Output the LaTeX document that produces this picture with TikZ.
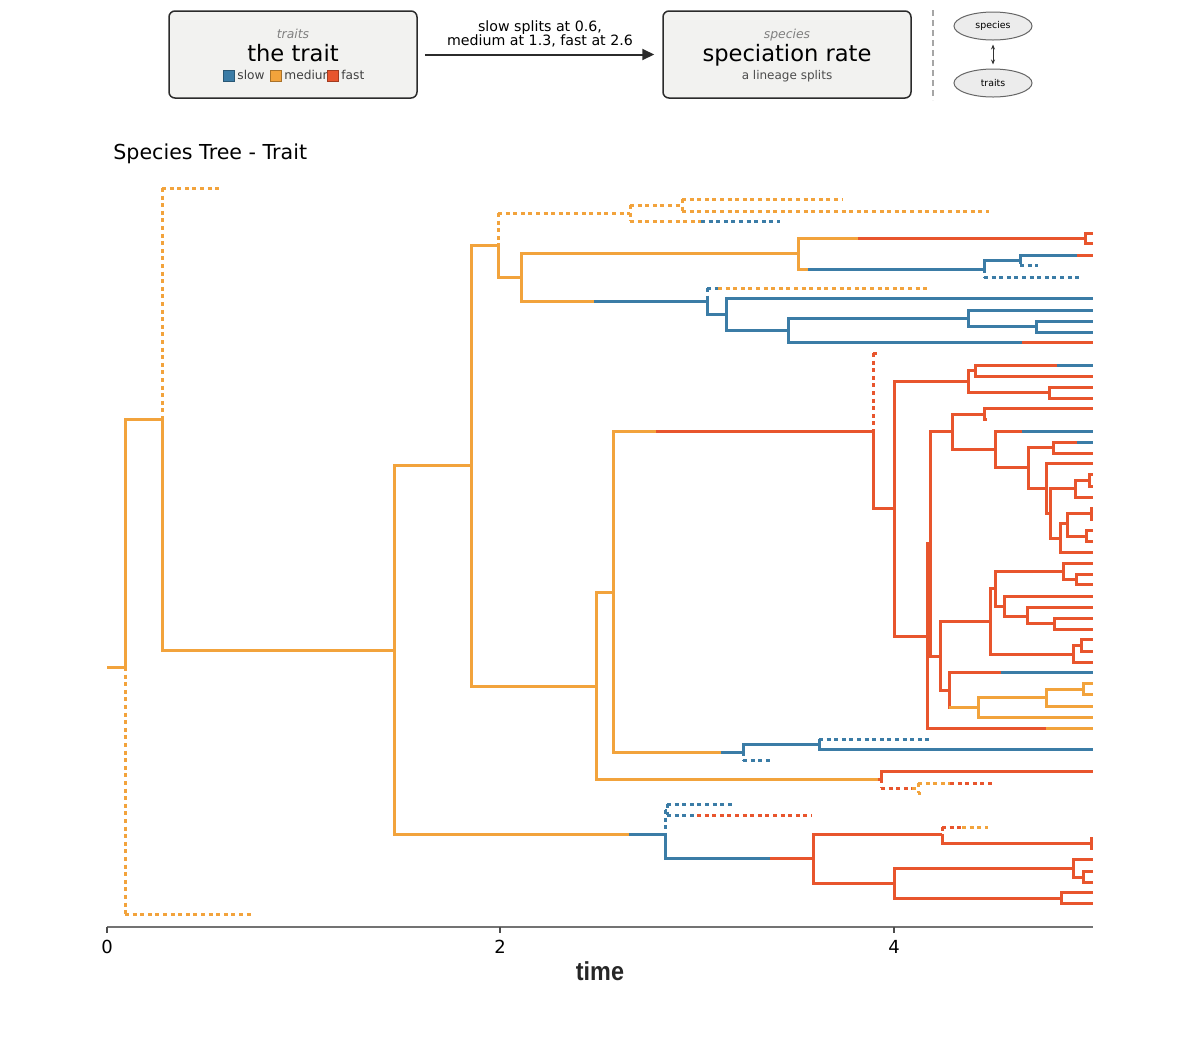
\documentclass[tikz,border=0pt]{standalone}
\usepackage{fontspec}
\setmainfont{DejaVu Sans}
\newfontfamily\labfont{Liberation Sans}
\usetikzlibrary{arrows.meta,shapes.geometric}
\definecolor{slowc}{HTML}{3B7CA6}
\definecolor{medc}{HTML}{F2A33C}
\definecolor{fastc}{HTML}{E8552D}
\definecolor{boxfill}{HTML}{F2F2F0}
\definecolor{boxedge}{HTML}{2B2B2B}
\newcommand\Hbr[4]{\draw[#1] (#2,#4) -- (#3,#4);}
\newcommand\Vbr[4]{\draw[line cap=rect,#1] (#2,#3) -- (#2,#4);}
\tikzset{
  slw/.style={slowc, line width=1.5pt},
  med/.style={medc, line width=1.5pt},
  fst/.style={fastc, line width=1.5pt},
  dslw/.style={slw, line cap=butt, dash pattern=on 2pt off 1.8pt},
  dmed/.style={med, line cap=butt, dash pattern=on 2pt off 1.8pt},
  dfst/.style={fst, line cap=butt, dash pattern=on 2pt off 1.8pt},
  hbox/.style={draw=boxedge, fill=boxfill, line width=0.75pt, rounded corners=3pt, minimum width=124pt, minimum height=43.5pt, inner sep=0pt},
  oval/.style={ellipse, draw=gray!80!black, fill=gray!15, line width=0.5pt, minimum width=39pt, minimum height=14pt, inner sep=0pt, font=\fontsize{4.7pt}{5pt}\selectfont},
  txt/.style={inner sep=0pt, anchor=base},
  legsq/.style={line width=0.4pt, minimum size=5.5pt, inner sep=0pt}
}
\begin{document}
\begin{tikzpicture}[x=0.5pt,y=-0.5pt]
\useasboundingbox (0,0) rectangle (1200,1046);
% ---------- header ----------
\node[hbox] (trait) at (293,54.5) {};
\node[hbox] (rate) at (787,54.5) {};
\node[txt, text=gray, font=\fontsize{6.2pt}{7pt}\selectfont\itshape] (t1) at (293,38) {traits};
\node[txt, font=\fontsize{11.3pt}{13pt}\selectfont] (t2) at (293,61) {the trait};
\node[legsq, fill=slowc, draw=slowc!70!black] (q1) at (228.5,75.5) {};
\node[txt, anchor=base west, text=black!75, font=\fontsize{6.1pt}{7pt}\selectfont] (l1) at (237,79) {slow};
\node[legsq, fill=medc, draw=medc!70!black] (q2) at (275.5,75.5) {};
\node[txt, anchor=base west, text=black!75, font=\fontsize{6.1pt}{7pt}\selectfont] (l2) at (284,79) {medium};
\node[legsq, fill=fastc, draw=fastc!70!black] (q3) at (332.5,75.5) {};
\node[txt, anchor=base west, text=black!75, font=\fontsize{6.1pt}{7pt}\selectfont] (l3) at (341,79) {fast};
\node[txt, text=gray, font=\fontsize{6.2pt}{7pt}\selectfont\itshape] (s1) at (787,38) {species};
\node[txt, font=\fontsize{11.3pt}{13pt}\selectfont] (s2) at (787,61) {speciation rate};
\node[txt, text=black!70, font=\fontsize{6pt}{7pt}\selectfont] (s3) at (787,79) {a lineage splits};
\draw[boxedge, line width=1pt, -{Triangle[length=6pt,width=5.5pt]}, shorten <=3.5pt, shorten >=4pt] (trait.east) -- (rate.west);
\node[inner sep=0pt, align=center, font=\fontsize{7.1pt}{7.4pt}\selectfont] (al) at (540,34) {slow splits at 0.6,\\medium at 1.3, fast at 2.6};
\draw[gray!70, line width=0.6pt, dash pattern=on 3pt off 2pt] (933,10) -- (933,100);
\node[oval] (sp) at (993,26) {species};
\node[oval] (tr) at (993,83) {traits};
\draw[black!80, line width=0.4pt, {Stealth[length=2.5pt,width=2pt]}-{Stealth[length=2.5pt,width=2pt]}, shorten <=2pt, shorten >=2pt] (sp.south) -- (tr.north);
% ---------- title ----------
\node[txt, anchor=base west, font=\fontsize{10.3pt}{12pt}\selectfont] (title) at (113,159) {Species Tree - Trait};
% ---------- axis ----------
\draw[black!55, line width=0.7pt] (107,927) -- (1093,927);
\foreach \xx/\lab in {107/0,500/2,894/4}{
  \draw[black!70, line width=0.6pt] (\xx,927) -- (\xx,933);
  \node[txt, font=\fontsize{9pt}{10pt}\selectfont] at (\xx,953) {\lab};
}
\node[txt, xscale=0.9, font=\labfont\bfseries\fontsize{13pt}{15pt}\selectfont, text=black!85] (xl) at (600,980) {time};
% ---------- tree ----------
\Hbr{med}{107}{125}{667}
\Vbr{med}{125}{419}{667}\Vbr{dmed}{125}{667}{914}
\Hbr{dmed}{125}{254}{914}
\Hbr{med}{125}{162}{419}
\Vbr{dmed}{162}{188}{419}\Vbr{med}{162}{419}{650}
\Hbr{dmed}{162}{221}{188}
\Hbr{med}{162}{394}{650}
\Vbr{med}{394}{465}{834}
\Hbr{med}{394}{471}{465}
\Vbr{med}{471}{245}{686}
\Hbr{med}{471}{498}{245}
\Vbr{dmed}{498}{213}{245}\Vbr{med}{498}{245}{277}
\Hbr{dmed}{498}{630}{213}
\Vbr{dmed}{630}{205}{221}
\Hbr{dmed}{630}{682}{205}
\Vbr{dmed}{682}{199}{211}
\Hbr{dmed}{682}{842}{199}
\Hbr{dmed}{682}{989}{211}
\Hbr{dmed}{630}{701}{221}\Hbr{dslw}{701}{780}{221}
\Hbr{med}{498}{521}{277}
\Vbr{med}{521}{253}{301}
\Hbr{med}{521}{798}{253}
\Vbr{med}{798}{238}{269}
\Hbr{med}{798}{858}{238}\Hbr{fst}{858}{1085}{238}
\Vbr{fst}{1085}{233}{243}\Hbr{fst}{1085}{1093}{233}\Hbr{fst}{1085}{1093}{243}
\Hbr{med}{798}{808}{269}\Hbr{slw}{808}{984}{269}
\Vbr{slw}{984}{260}{269}\Vbr{dslw}{984}{269}{277}
\Hbr{slw}{984}{1020}{260}
\Vbr{slw}{1020}{255}{260}\Vbr{dslw}{1020}{260}{265}
\Hbr{slw}{1020}{1077}{255}\Hbr{fst}{1077}{1093}{255}
\Hbr{dslw}{1020}{1038}{265}
\Hbr{dslw}{984}{1080}{277}
\Hbr{med}{521}{594}{301}\Hbr{slw}{594}{707}{301}
\Vbr{dslw}{707}{288}{301}\Vbr{slw}{707}{301}{314}
\Hbr{dslw}{707}{718}{288}\Hbr{dmed}{718}{929}{288}
\Hbr{slw}{707}{726}{314}
\Vbr{slw}{726}{298}{330}
\Hbr{slw}{726}{1093}{298}
\Hbr{slw}{726}{788}{330}
\Vbr{slw}{788}{318}{342}
\Hbr{slw}{788}{968}{318}
\Vbr{slw}{968}{310}{326}
\Hbr{slw}{968}{1093}{310}
\Hbr{slw}{968}{1036}{326}
\Vbr{slw}{1036}{321}{332}
\Hbr{slw}{1036}{1093}{321}\Hbr{slw}{1036}{1093}{332}
\Hbr{slw}{788}{1022}{342}\Hbr{fst}{1022}{1093}{342}
% middle clade
\Hbr{med}{471}{596}{686}
\Vbr{med}{596}{592}{779}
\Hbr{med}{596}{613}{592}
\Vbr{med}{613}{431}{752}
\Hbr{med}{613}{656}{431}\Hbr{fst}{656}{873}{431}
\Vbr{dfst}{873}{353}{431}\Vbr{fst}{873}{431}{508}
\Hbr{dfst}{873}{878}{353}
\Hbr{fst}{873}{894}{508}
\Vbr{fst}{894}{381}{636}
\Hbr{fst}{894}{968}{381}
\Vbr{fst}{968}{370}{392}
\Hbr{fst}{968}{975}{370}
\Vbr{fst}{975}{365}{376}
\Hbr{fst}{975}{1057}{365}\Hbr{slw}{1057}{1093}{365}
\Hbr{fst}{975}{1093}{376}
\Hbr{fst}{968}{1049}{392}
\Vbr{fst}{1049}{387}{398}
\Hbr{fst}{1049}{1093}{387}\Hbr{fst}{1049}{1093}{398}
\Hbr{fst}{894}{927}{636}
\Vbr{fst}{927}{543}{728}
\Hbr{fst}{927}{930}{543}
\Vbr{fst}{930}{431}{656}
\Hbr{fst}{930}{952}{431}
\Vbr{fst}{952}{414}{449}
\Hbr{fst}{952}{984}{414}
\Vbr{fst}{984}{408}{419}
\Hbr{fst}{984}{1093}{408}
\Hbr{fst}{984}{987}{419}
\Hbr{fst}{952}{995}{449}
\Vbr{fst}{995}{431}{467}
\Hbr{fst}{995}{1022}{431}\Hbr{slw}{1022}{1093}{431}
\Hbr{fst}{995}{1028}{467}
\Vbr{fst}{1028}{447}{488}
\Hbr{fst}{1028}{1053}{447}
\Vbr{fst}{1053}{442}{453}
\Hbr{fst}{1053}{1077}{442}\Hbr{slw}{1077}{1093}{442}
\Hbr{fst}{1053}{1093}{453}
\Hbr{fst}{1028}{1046}{488}
\Vbr{fst}{1046}{463}{513}
\Hbr{fst}{1046}{1093}{463}
\Hbr{fst}{1046}{1050}{513}
\Vbr{fst}{1050}{488}{538}
\Hbr{fst}{1050}{1075}{488}
\Vbr{fst}{1075}{480}{497}
\Hbr{fst}{1075}{1089}{480}
\Vbr{fst}{1089}{474}{486}
\Hbr{fst}{1089}{1093}{474}\Hbr{fst}{1089}{1093}{486}
\Hbr{fst}{1075}{1093}{497}
\Hbr{fst}{1050}{1060}{538}
\Vbr{fst}{1060}{523}{552}
\Hbr{fst}{1060}{1067}{523}
\Vbr{fst}{1067}{513}{536}
\Hbr{fst}{1067}{1091}{513}
\Vbr{fst}{1091}{508}{519}
\Hbr{fst}{1091}{1093}{508}\Hbr{fst}{1091}{1093}{519}
\Hbr{fst}{1067}{1086}{536}
\Vbr{fst}{1086}{530}{541}
\Hbr{fst}{1086}{1093}{530}\Hbr{fst}{1086}{1093}{541}
\Hbr{fst}{1060}{1093}{552}
\Hbr{fst}{930}{940}{656}
\Vbr{fst}{940}{621}{690}
\Hbr{fst}{940}{990}{621}
\Vbr{fst}{990}{588}{654}
\Hbr{fst}{990}{995}{588}
\Vbr{fst}{995}{571}{606}
\Hbr{fst}{995}{1063}{571}
\Vbr{fst}{1063}{563}{579}
\Hbr{fst}{1063}{1093}{563}
\Hbr{fst}{1063}{1076}{579}
\Vbr{fst}{1076}{574}{584}
\Hbr{fst}{1076}{1093}{574}\Hbr{fst}{1076}{1093}{584}
\Hbr{fst}{995}{1004}{606}
\Vbr{fst}{1004}{596}{616}
\Hbr{fst}{1004}{1093}{596}
\Hbr{fst}{1004}{1027}{616}
\Vbr{fst}{1027}{607}{623}
\Hbr{fst}{1027}{1093}{607}
\Hbr{fst}{1027}{1054}{623}
\Vbr{fst}{1054}{618}{629}
\Hbr{fst}{1054}{1093}{618}\Hbr{fst}{1054}{1093}{629}
\Hbr{fst}{990}{1073}{654}
\Vbr{fst}{1073}{645}{662}
\Hbr{fst}{1073}{1081}{645}
\Vbr{fst}{1081}{639}{651}
\Hbr{fst}{1081}{1093}{639}\Hbr{fst}{1081}{1093}{651}
\Hbr{fst}{1073}{1093}{662}
\Hbr{fst}{940}{949}{690}
\Vbr{fst}{949}{672}{707}
\Hbr{fst}{949}{1001}{672}\Hbr{slw}{1001}{1093}{672}
\Hbr{med}{949}{978}{707}
\Vbr{med}{978}{697}{717}
\Hbr{med}{978}{1046}{697}
\Vbr{med}{1046}{689}{706}
\Hbr{med}{1046}{1083}{689}
\Vbr{med}{1083}{683}{694}
\Hbr{med}{1083}{1093}{683}\Hbr{med}{1083}{1093}{694}
\Hbr{med}{1046}{1093}{706}
\Hbr{med}{978}{1093}{717}
\Hbr{fst}{927}{1046}{728}\Hbr{med}{1046}{1093}{728}
% lower of 613
\Hbr{med}{613}{721}{752}\Hbr{slw}{721}{743}{752}
\Vbr{slw}{743}{744}{752}\Vbr{dslw}{743}{752}{760}
\Hbr{slw}{743}{819}{744}
\Vbr{dslw}{819}{739}{744}\Vbr{slw}{819}{744}{749}
\Hbr{dslw}{819}{930}{739}
\Hbr{slw}{819}{1093}{749}
\Hbr{dslw}{743}{771}{760}
% lower of 596
\Hbr{med}{596}{878}{779}\Hbr{fst}{878}{881}{779}
\Vbr{fst}{881}{771}{779}\Vbr{dfst}{881}{779}{788}
\Hbr{fst}{881}{1093}{771}
\Hbr{dfst}{881}{912}{788}\Hbr{dmed}{912}{918}{788}
\Vbr{dmed}{918}{783}{793}
\Hbr{dmed}{918}{950}{783}\Hbr{dfst}{950}{992}{783}
\Hbr{dmed}{918}{921}{793}
% bottom clade
\Hbr{med}{394}{629}{834}\Hbr{slw}{629}{665}{834}
\Vbr{dslw}{665}{810}{834}\Vbr{slw}{665}{834}{858}
\Hbr{dslw}{665}{667}{810}
\Vbr{dslw}{667}{804}{815}
\Hbr{dslw}{667}{734}{804}
\Hbr{dslw}{667}{697}{815}\Hbr{dfst}{697}{812}{815}
\Hbr{slw}{665}{770}{858}\Hbr{fst}{770}{813}{858}
\Vbr{fst}{813}{834}{883}
\Hbr{fst}{813}{942}{834}
\Vbr{dfst}{942}{827}{835}\Vbr{fst}{942}{835}{843}
\Hbr{dfst}{942}{962}{827}\Hbr{dmed}{962}{988}{827}
\Hbr{fst}{942}{1091}{843}
\Vbr{fst}{1091}{838}{848}
\Hbr{fst}{1091}{1093}{838}\Hbr{fst}{1091}{1093}{848}
\Hbr{fst}{813}{894}{883}
\Vbr{fst}{894}{868}{898}
\Hbr{fst}{894}{1073}{868}
\Vbr{fst}{1073}{859}{877}
\Hbr{fst}{1073}{1093}{859}
\Hbr{fst}{1073}{1083}{877}
\Vbr{fst}{1083}{871}{882}
\Hbr{fst}{1083}{1093}{871}\Hbr{fst}{1083}{1093}{882}
\Hbr{fst}{894}{1061}{898}
\Vbr{fst}{1061}{892}{903}
\Hbr{fst}{1061}{1093}{892}\Hbr{fst}{1061}{1093}{903}
\end{tikzpicture}
\end{document}
